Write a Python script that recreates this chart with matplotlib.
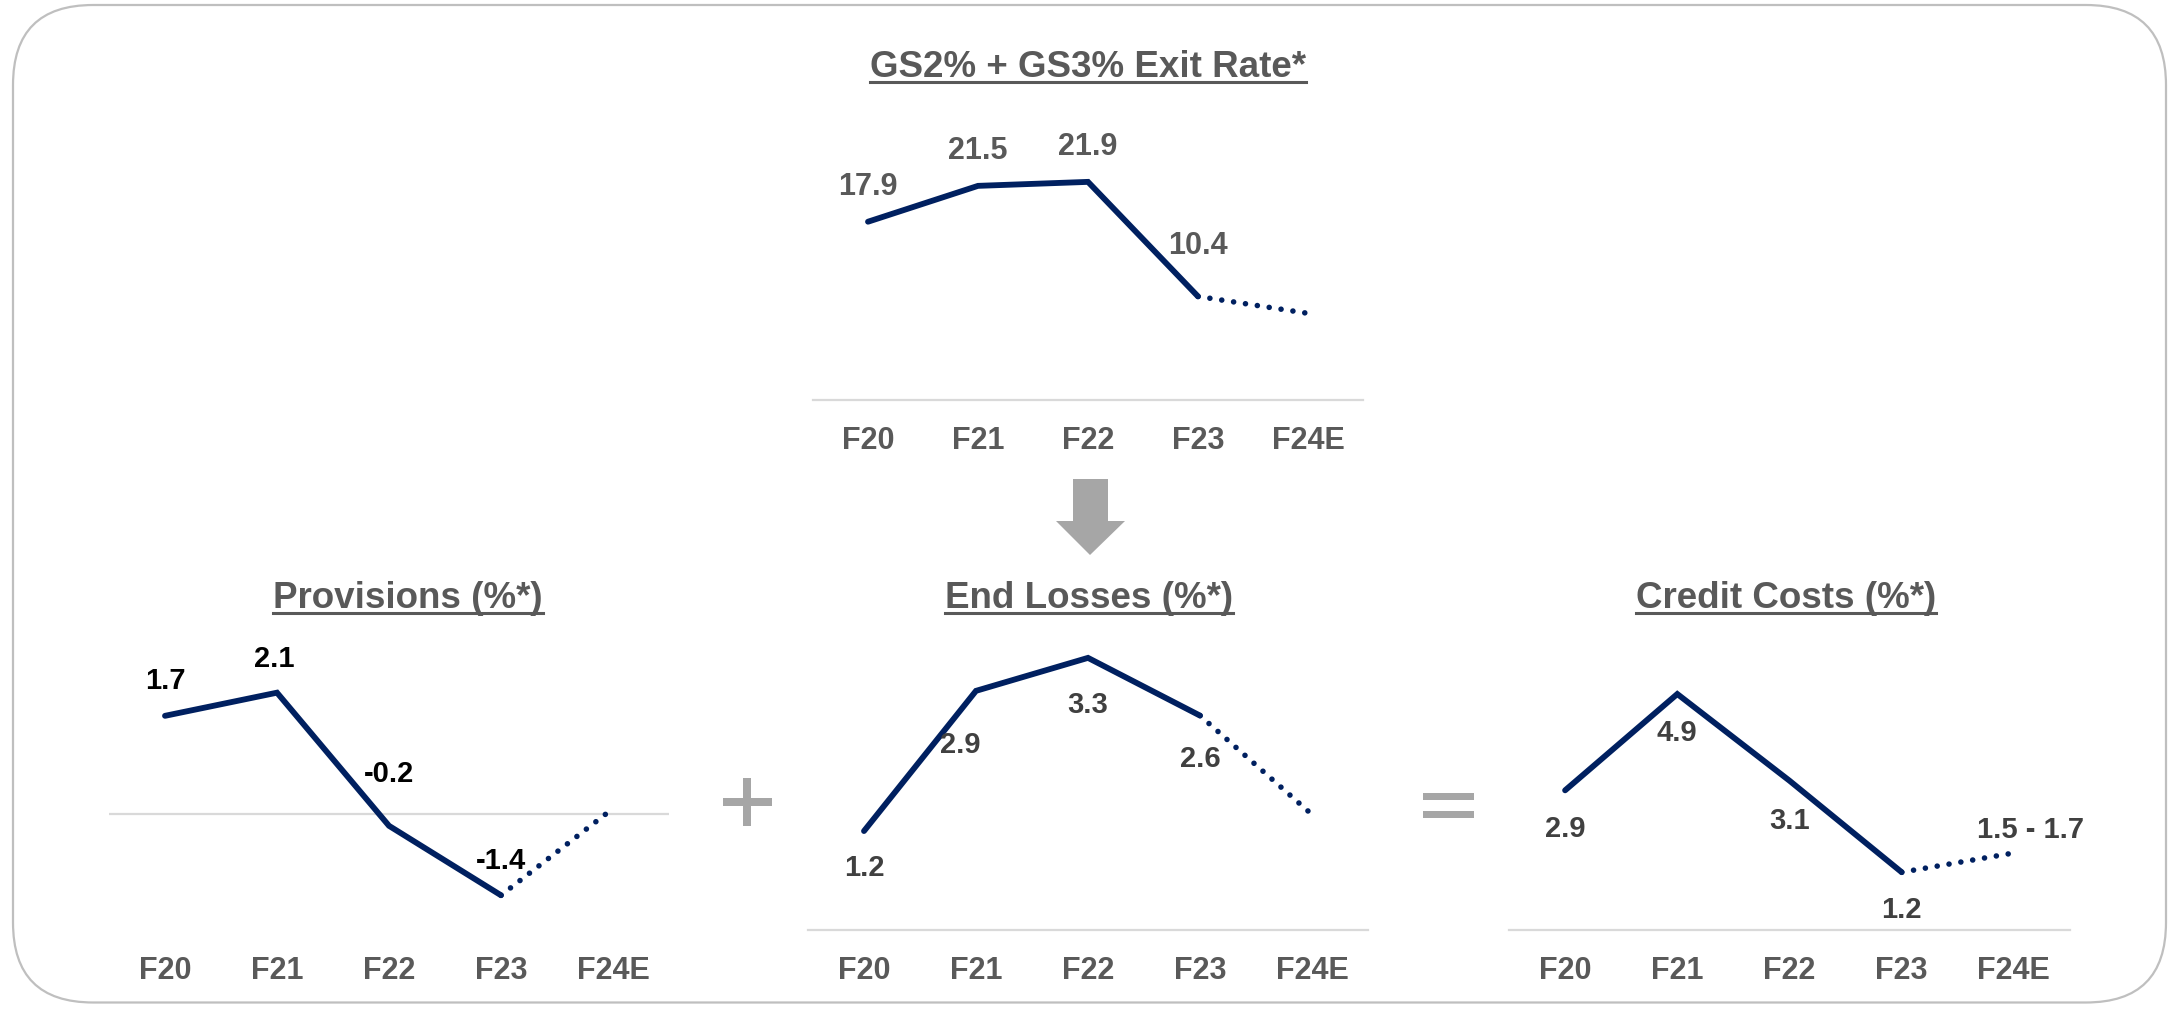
import matplotlib
matplotlib.use('Agg')
import matplotlib.pyplot as plt
from matplotlib.patches import FancyBboxPatch, Polygon, Rectangle
from matplotlib.lines import Line2D
import numpy as np

plt.rcParams['font.family'] = ['Liberation Sans', 'DejaVu Sans']
plt.rcParams['font.weight'] = 'bold'

# data
categories = ['F20', 'F21', 'F22', 'F23', 'F24E']
gs_exit_rate = [17.9, 21.5, 21.9, 10.4, 8.7]
gs_labels = ['17.9', '21.5', '21.9', '10.4', '']
provisions = [1.7, 2.1, -0.2, -1.4, 0.1]
prov_labels = ['1.7', '2.1', '-0.2', '-1.4', '']
end_losses = [1.2, 2.9, 3.3, 2.6, 1.4]
end_labels = ['1.2', '2.9', '3.3', '2.6', '']
credit_costs = [2.9, 4.9, 3.1, 1.2, 1.6]
credit_labels = ['2.9', '4.9', '3.1', '1.2', '1.5 - 1.7']

NAVY = '#002060'
GREY_TXT = '#595959'
DARK_TXT = '#404040'
AXIS_GREY = '#D9D9D9'
OP_GREY = '#A6A6A6'

W, H = 2177, 1009
fig = plt.figure(figsize=(W / 100, H / 100), dpi=100)


def fx(px):
    return px / W


def fy(py):
    return 1 - py / H


def make_axes(left, right, top, bottom, pad):
    ax = fig.add_axes([fx(left), fy(bottom), fx(right - left), (bottom - top) / H])
    ax.set_facecolor('none')
    for s in ['top', 'right', 'left']:
        ax.spines[s].set_visible(False)
    ax.spines['bottom'].set_color(AXIS_GREY)
    ax.spines['bottom'].set_linewidth(1.6)
    ax.set_yticks([])
    ax.set_xlim(-0.5, 4.5)
    ax.set_xticks(range(len(categories)))
    ax.set_xticklabels(categories, fontsize=22, fontweight='bold', color=GREY_TXT)
    ax.tick_params(axis='x', length=0, pad=pad)
    return ax


def draw_series(ax, vals, labels, offsets, color, size):
    x = np.arange(len(vals))
    ax.plot(x[:4], vals[:4], color=NAVY, lw=4.2, solid_capstyle='round',
            solid_joinstyle='miter')
    ax.plot(x[3:], vals[3:], color=NAVY, lw=4.0, linestyle=(0, (0.01, 2.15)),
            dash_capstyle='round')
    for i, (v, lab) in enumerate(zip(vals, labels)):
        if not lab:
            continue
        dx, dy = offsets[i]
        ax.annotate(lab, (i, v), xytext=(dx, dy), textcoords='offset pixels',
                    ha='center', va='center', fontsize=size, fontweight='bold',
                    color=color)


def title(text, cx, baseline):
    t = fig.text(fx(cx), fy(baseline), text, ha='center', va='baseline',
                 fontsize=26.5, fontweight='bold', color=GREY_TXT)
    return t


# top chart
ax_top = make_axes(813, 1363, 151, 400, 19)
ax_top.set_ylim(0, 25)
draw_series(ax_top, gs_exit_rate, gs_labels,
            [(0, 35), (0, 35), (0, 35), (0, 50), (0, 0)], GREY_TXT, 22)

# provisions
ax_prov = make_axes(109, 669, 629, 930, 19)
ax_prov.set_ylim(-2.0, 3.2)
ax_prov.spines['bottom'].set_visible(False)
ax_prov.axhline(0, color=AXIS_GREY, lw=1.6)
draw_series(ax_prov, provisions, prov_labels,
            [(0, 35), (-3, 34), (0, 52), (0, 34), (0, 0)], 'black', 21)

# end losses
ax_end = make_axes(808, 1368, 629, 930, 19)
ax_end.set_ylim(0, 3.65)
draw_series(ax_end, end_losses, end_labels,
            [(0, -37), (-16, -54), (0, -47), (0, -43), (0, 0)], DARK_TXT, 21)

# credit costs
ax_cc = make_axes(1509, 2070, 629, 930, 19)
ax_cc.set_ylim(0, 6.25)
draw_series(ax_cc, credit_costs, credit_labels,
            [(0, -39), (0, -39), (0, -40), (0, -38), (17, 23)], DARK_TXT, 21)

# titles with underline
titles = [
    title('GS2% + GS3% Exit Rate*', 1088, 77),
    title('Provisions (%*)', 408, 608),
    title('End Losses (%*)', 1089, 608),
    title('Credit Costs (%*)', 1786, 608),
]
fig.canvas.draw()
renderer = fig.canvas.get_renderer()
for t in titles:
    bb = t.get_window_extent(renderer)
    base_y = t.get_position()[1] * H - 5
    fig.add_artist(Line2D([bb.x0 / W, bb.x1 / W], [base_y / H, base_y / H],
                          color=GREY_TXT, lw=2.2, transform=fig.transFigure))

# down arrow
arrow = Polygon([(fx(1073), fy(479)), (fx(1108), fy(479)), (fx(1108), fy(521)),
                 (fx(1125), fy(521)), (fx(1090), fy(555)), (fx(1056), fy(521)),
                 (fx(1073), fy(521))], closed=True, facecolor=OP_GREY,
                edgecolor='none', transform=fig.transFigure)
fig.add_artist(arrow)

# plus sign
fig.add_artist(Rectangle((fx(723), fy(806)), fx(49), 8 / H, facecolor=OP_GREY,
                         edgecolor='none', transform=fig.transFigure))
fig.add_artist(Rectangle((fx(743), fy(826)), fx(8), 48 / H, facecolor=OP_GREY,
                         edgecolor='none', transform=fig.transFigure))

# equals sign
fig.add_artist(Rectangle((fx(1423), fy(800)), fx(51), 7 / H, facecolor=OP_GREY,
                         edgecolor='none', transform=fig.transFigure))
fig.add_artist(Rectangle((fx(1423), fy(818)), fx(51), 7 / H, facecolor=OP_GREY,
                         edgecolor='none', transform=fig.transFigure))

# rounded frame
frame = FancyBboxPatch((0.13, 0.065), 21.53, 9.975,
                       boxstyle='round,pad=0,rounding_size=0.8',
                       facecolor='none', edgecolor='#BFBFBF', lw=1.6,
                       transform=fig.dpi_scale_trans)
fig.add_artist(frame)

fig.savefig('out.png', dpi=100)
